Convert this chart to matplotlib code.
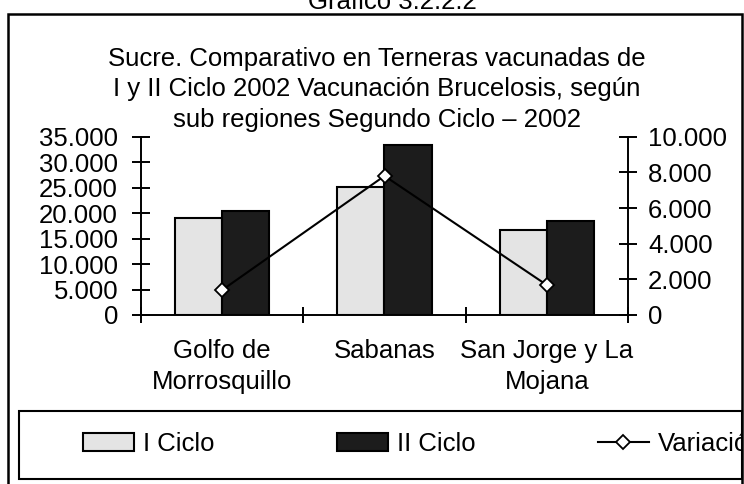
import matplotlib.pyplot as plt
from matplotlib.patches import Rectangle
from matplotlib.ticker import FuncFormatter
from matplotlib.transforms import Bbox, TransformedBbox
import numpy as np

plt.rcParams['font.family'] = ['Liberation Sans', 'DejaVu Sans']

regiones = ["Golfo de\nMorrosquillo", "Sabanas", "San Jorge y La\nMojana"]
ciclo1 = [19100, 25150, 16600]
ciclo2 = [20450, 33300, 18400]
variacion = [1400, 7800, 1680]

fs = 18.5
W, H = 744, 484

fig = plt.figure(figsize=(W / 100, H / 100), dpi=100)
ax = fig.add_axes([141 / W, 1 - 315 / H, (628 - 141) / W, (315 - 136.7) / H])
ax2 = ax.twinx()

x = np.arange(len(regiones))
w = 0.29
b1 = ax.bar(x - w / 2, ciclo1, w, color='#e4e4e4', edgecolor='black', linewidth=1.5, label='I Ciclo')
b2 = ax.bar(x + w / 2, ciclo2, w, color='#1c1c1c', edgecolor='black', linewidth=1.5, label='II Ciclo')
ln, = ax2.plot(x, variacion, color='black', linewidth=1.5, marker='D', markersize=7,
               markerfacecolor='white', markeredgecolor='black', markeredgewidth=1.3, label='Variación')

ax.set_xlim(-0.5, 2.5)
ax.set_ylim(0, 35000)
ax2.set_ylim(0, 10000)

fmt = FuncFormatter(lambda v, p: f"{int(v):,}".replace(",", "."))
ax.set_yticks(range(0, 35001, 5000))
ax.yaxis.set_major_formatter(fmt)
ax2.set_yticks(range(0, 10001, 2000))
ax2.yaxis.set_major_formatter(fmt)

ax.set_xticks([-0.5, 0.5, 1.5, 2.5])
ax.set_xticklabels([])
ax.set_xticks(x, minor=True)
ax.set_xticklabels(regiones, minor=True, fontsize=fs, linespacing=1.37)
ax.tick_params(axis='x', which='minor', length=0, pad=17)
ax.tick_params(axis='x', which='major', direction='inout', length=12, width=1.4)
ax.tick_params(axis='y', direction='inout', length=13, width=1.4, labelsize=fs, pad=10)
ax2.tick_params(axis='y', direction='inout', length=13, width=1.4, labelsize=fs, pad=8)

for a in (ax, ax2):
    a.spines['top'].set_visible(False)
    for s in a.spines.values():
        s.set_linewidth(1.4)
ax.spines['right'].set_visible(False)
ax2.spines['left'].set_visible(False)
ax2.spines['bottom'].set_visible(False)

fig.text(392 / W, 1 - 9 / H, "Gráfico 3.2.2.2", ha='center', va='baseline', fontsize=fs)
fig.text(377 / W, 1 - 127 / H,
         "Sucre. Comparativo en Terneras vacunadas de\n"
         "I y II Ciclo 2002 Vacunación Brucelosis, según\n"
         "sub regiones Segundo Ciclo – 2002",
         ha='center', va='baseline', fontsize=fs, linespacing=1.35)

# marco exterior y caja de leyenda
fig.add_artist(Rectangle((8 / W, -0.05), (742 - 8) / W, 1.05 - 14 / H, transform=fig.transFigure,
                         fill=False, edgecolor='black', linewidth=1.8))
fig.add_artist(Rectangle((19 / W, 1 - 479 / H), (742 - 19) / W, (479 - 411) / H, transform=fig.transFigure,
                         fill=False, edgecolor='black', linewidth=1.5))

leg = fig.legend(handles=[b1, b2, ln], labels=['I Ciclo', 'II Ciclo', 'Variación'],
                 loc='center left', bbox_to_anchor=(83 / W, 1 - 444 / H), ncol=3, frameon=False,
                 fontsize=fs, borderpad=0, handlelength=1.98, handleheight=0.66,
                 handletextpad=0.35, columnspacing=4.77, borderaxespad=0)
clip = TransformedBbox(Bbox([[0, 0], [741 / W, 1]]), fig.transFigure)
for t in leg.get_texts():
    t.set_clip_box(clip)
    t.set_clip_on(True)

fig.savefig("out.png", dpi=100)
